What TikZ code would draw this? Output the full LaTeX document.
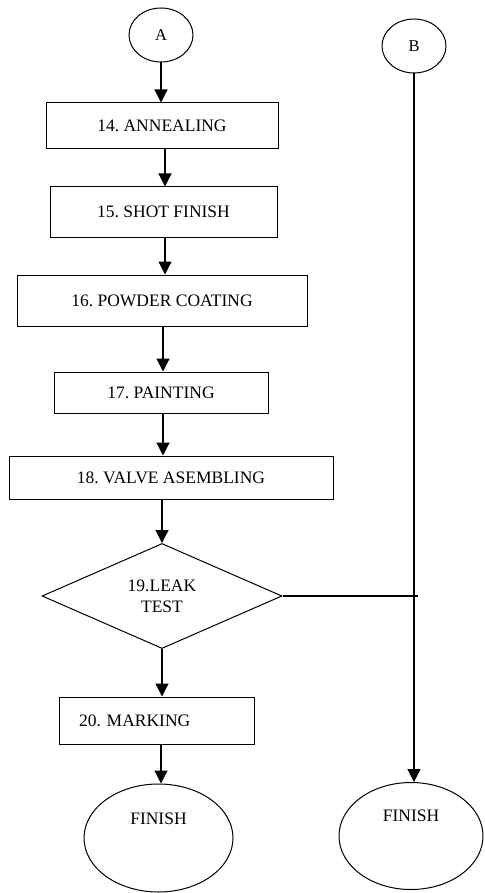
\documentclass[tikz,border=0pt]{standalone}
\usepackage{fontspec}
\setmainfont{Liberation Serif}
\usetikzlibrary{arrows.meta,shapes.geometric}
\tikzset{
  stepbox/.style={draw, line width=1pt, rectangle, inner sep=0pt, font=\fontsize{17.5}{21}\selectfont},
  conn/.style={draw, line width=1pt, ellipse, inner sep=0pt, font=\fontsize{16.5}{20}\selectfont},
  endell/.style={draw, line width=1pt, ellipse, inner sep=0pt},
  lbl/.style={font=\fontsize{17.5}{21}\selectfont, inner sep=0pt},
  arr/.style={line width=1.2pt, -{Triangle[length=13pt,width=13pt]}},
  plain/.style={line width=1.1pt}
}
\begin{document}
\frenchspacing
\begin{tikzpicture}[x=1pt,y=-1pt]
\useasboundingbox (0,0) rectangle (484,893);
\node[conn, minimum width=64pt, minimum height=54pt] (A) at (161,35) {A};
\node[conn, minimum width=64pt, minimum height=54pt] (B) at (414,46) {B};
\node[stepbox, minimum width=232pt, minimum height=46pt] (n14) at (162,126) {14. ANNEALING};
\node[stepbox, minimum width=227pt, minimum height=50pt] (n15) at (163.5,212) {15. SHOT FINISH};
\node[stepbox, minimum width=290pt, minimum height=51pt] (n16) at (162,300.5) {16. POWDER COATING};
\node[stepbox, minimum width=214pt, minimum height=41pt] (n17) at (161,392.5) {17. PAINTING};
\node[stepbox, minimum width=324pt, minimum height=43pt] (n18) at (171,477.5) {18. VALVE ASEMBLING};
\node[draw, line width=1pt, diamond, aspect=2.3, minimum width=240pt, minimum height=105pt, inner sep=0pt, align=center, font=\fontsize{17.5}{21}\selectfont] (dia) at (162,596) {19.LEAK\\TEST};
\node[stepbox, minimum width=195pt, minimum height=47pt, inner xsep=20pt, text width=155pt, align=left] (n20) at (156.5,720.5) {20. MARKING};
\node[endell, minimum width=149pt, minimum height=108pt, label={[lbl, yshift=19pt]center:FINISH}] (finA) at (158.5,838) {};
\node[endell, minimum width=144pt, minimum height=107pt, label={[lbl, yshift=20pt]center:FINISH}] (finB) at (411,836) {};
\coordinate (j) at (418,594);
\coordinate (xa) at (165,0);
\coordinate (xb) at (163,0);
\coordinate (xc) at (161,0);
\draw[arr] (A.south) -- (A.south |- n14.north);
\draw[arr] (xa |- n14.south) -- (xa |- n15.north);
\draw[arr] (xa |- n15.south) -- (xa |- n16.north);
\draw[arr] (xb |- n16.south) -- (xb |- n17.north);
\draw[arr] (xb |- n17.south) -- (xb |- n18.north);
\draw[arr] (dia.north |- n18.south) -- (dia.north);
\draw[arr] (dia.south) -- (dia.south |- n20.north);
\draw[arr] (xc |- n20.south) -- (xc |- finA.north);
\draw[arr] (B.south) -- (B.south |- finB.north);
\draw[plain] (dia.east) -- (dia.east -| j);
\end{tikzpicture}
\end{document}
